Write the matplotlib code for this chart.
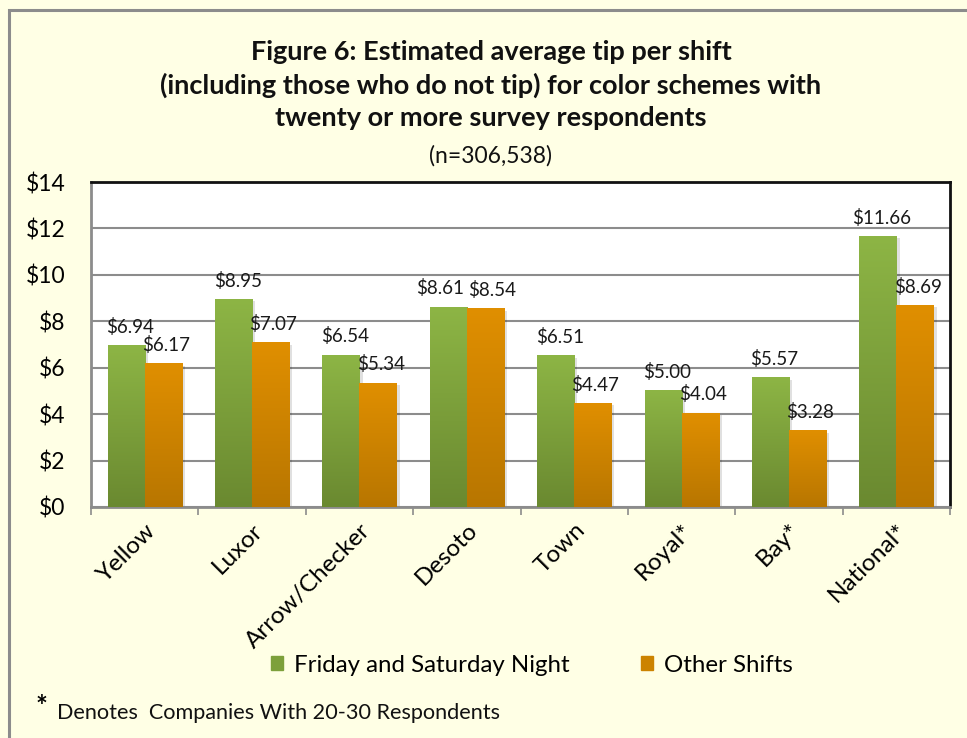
import matplotlib
matplotlib.use("Agg")
import matplotlib.pyplot as plt
import numpy as np
from matplotlib.colors import LinearSegmentedColormap
from matplotlib.patches import Rectangle

plt.rcParams['font.family'] = ['Lato', 'DejaVu Sans']

categories = ["Yellow", "Luxor", "Arrow/Checker", "Desoto", "Town", "Royal*", "Bay*", "National*"]
fri_sat = [6.94, 8.95, 6.54, 8.61, 6.51, 5.00, 5.57, 11.66]
other = [6.17, 7.07, 5.34, 8.54, 4.47, 4.04, 3.28, 8.69]
series_names = ["Friday and Saturday Night", "Other Shifts"]
yticks = [0, 2, 4, 6, 8, 10, 12, 14]
title_lines = "Figure 6: Estimated average tip per shift\n(including those who do not tip) for color schemes with\ntwenty or more survey respondents"
subtitle = "(n=306,538)"
footnote = "Denotes  Companies With 20-30 Respondents"

W, H = 967, 738
bg = "#FFFFE5"
fig = plt.figure(figsize=(W/100, H/100), dpi=100, facecolor=bg)

# outer border (top/left visible)
fig.add_artist(Rectangle((9/W, -0.1), 1.2, 1 - 10/H + 0.1, transform=fig.transFigure,
                         fill=False, edgecolor="#8C8C8C", linewidth=2.2))

ax = fig.add_axes([91/W, 1 - 507/H, (950 - 91)/W, (507 - 182)/H])
ax.set_facecolor("white")

x = np.arange(len(categories))
w = 0.345
green_cmap = LinearSegmentedColormap.from_list("g", ["#6A8930", "#8DB545"])
orange_cmap = LinearSegmentedColormap.from_list("o", ["#B87600", "#E08F00"])

b1 = ax.bar(x - w/2, fri_sat, w, color="#7DA03B", zorder=3, label=series_names[0])
b2 = ax.bar(x + w/2, other, w, color="#CC8300", zorder=3, label=series_names[1])

grad = np.linspace(0, 1, 256).reshape(-1, 1)
for bars, cmap in ((b1, green_cmap), (b2, orange_cmap)):
    for p in bars:
        x0, y0 = p.get_x(), p.get_y()
        bw, bh = p.get_width(), p.get_height()
        ax.add_patch(Rectangle((x0 + 0.03, y0), bw, bh - 0.08, facecolor="#000000",
                               alpha=0.12, zorder=2, linewidth=0))
        ax.imshow(grad, extent=[x0, x0 + bw, y0, y0 + bh], origin="lower",
                  cmap=cmap, aspect="auto", zorder=3.5, interpolation="bilinear")

for i, (f, o) in enumerate(zip(fri_sat, other)):
    close = abs(f - o) < 0.6
    dxf, dxo = (-6, 5) if close else (3, 2)
    ax.annotate(f"${f:.2f}", (b1[i].get_x() + w/2, f), xytext=(dxf, 7),
                textcoords="offset points", ha="center", va="bottom",
                fontsize=13.5, color="#1a1a1a", zorder=5)
    ax.annotate(f"${o:.2f}", (b2[i].get_x() + w/2, o), xytext=(dxo, 7),
                textcoords="offset points", ha="center", va="bottom",
                fontsize=13.5, color="#1a1a1a", zorder=5)

ax.set_xlim(-0.5, len(categories) - 0.5)
ax.set_ylim(0, 14)
ax.set_yticks(yticks)
ax.set_yticklabels([f"${t}" for t in yticks], fontsize=16.5)
ax.tick_params(axis="y", length=0, pad=18.5)
ax.yaxis.grid(True, color="#8C8C8C", linewidth=1.5, zorder=0)
ax.set_axisbelow(True)

ax.set_xticks(np.arange(-0.5, len(categories), 1.0), minor=False)
ax.set_xticklabels([])
ax.tick_params(axis="x", which="major", length=6, direction="out", color="#8C8C8C", width=1.2)
ax.set_xticks(x, minor=True)
ax.set_xticklabels(categories, minor=True, rotation=45, ha="right", va="top",
                   rotation_mode="anchor", fontsize=17.5)
ax.tick_params(axis="x", which="minor", length=0, pad=9)

for s in ("top", "right"):
    ax.spines[s].set_color("#111111")
    ax.spines[s].set_linewidth(2)
for s in ("left", "bottom"):
    ax.spines[s].set_color("#8C8C8C")
    ax.spines[s].set_linewidth(2)

fig.text(491/W, 1 - 85/H, title_lines, ha="center", va="center", fontsize=19.5,
         fontweight="bold", linespacing=1.42, color="#111111")
fig.text(491/W, 1 - 156/H, subtitle, ha="center", va="center", fontsize=16.5, color="#111111")

fig.legend(handles=[Rectangle((0, 0), 1, 1, color="#7DA03B"), Rectangle((0, 0), 1, 1, color="#CC8300")],
           labels=series_names, loc="center", bbox_to_anchor=(532/W, 1 - 665/H),
           ncol=2, frameon=False, fontsize=17.3, handlelength=0.5, handleheight=0.5,
           handletextpad=0.45, columnspacing=3.0)

fig.text(36/W, 1 - 707/H, "*", ha="left", va="center", fontsize=20, fontweight="bold")
fig.text(57/W, 1 - 713/H, footnote, ha="left", va="center", fontsize=15.6, color="#111111")

fig.savefig("out.png", dpi=100, facecolor=bg)
